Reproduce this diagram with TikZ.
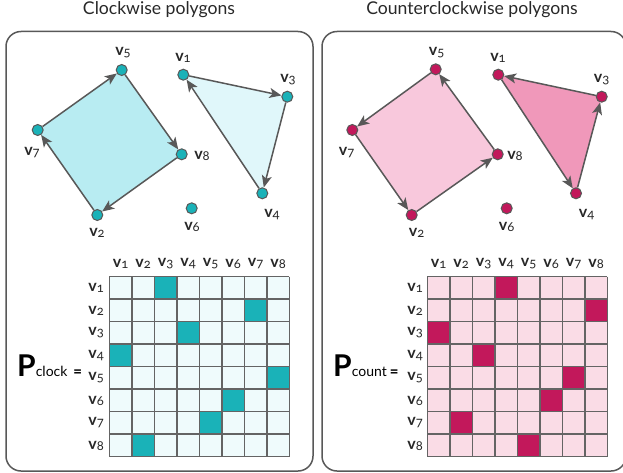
\documentclass[tikz,border=0pt]{standalone}
\usepackage{fontspec}
\setmainfont{Lato}[Numbers=OldStyle]
\usetikzlibrary{arrows.meta,backgrounds}
\definecolor{tealD}{RGB}{26,178,184}
\definecolor{tealQ}{RGB}{184,236,242}
\definecolor{tealT}{RGB}{224,247,250}
\definecolor{tealM}{RGB}{239,251,252}
\definecolor{pinkD}{RGB}{194,24,91}
\definecolor{pinkQ}{RGB}{248,200,220}
\definecolor{pinkT}{RGB}{240,152,186}
\definecolor{pinkM}{RGB}{250,220,230}
\definecolor{edgegray}{RGB}{88,88,88}
\definecolor{gridgray}{RGB}{100,100,100}
\definecolor{txt}{RGB}{40,40,40}
\tikzset{
  vtx/.style={circle, draw=edgegray, line width=1pt, minimum size=11pt, inner sep=0pt},
  arr/.style={draw=edgegray, line width=1.5pt, -{Stealth[length=12pt,width=10pt,inset=3pt]}},
  lab/.style={font=\fontsize{16}{16}\selectfont, text=txt, inner sep=0pt},
  ttl/.style={font=\fontsize{17.6}{18}\selectfont, text=txt, inner sep=0pt},
  panel/.style={draw=edgegray, line width=1.5pt, rounded corners=15pt},
  gridln/.style={draw=gridgray, line width=1.5pt},
  plab/.style={text=black, inner sep=0pt, anchor=west},
}
\newcommand\vl[1]{\textbf{v}{\fontsize{13}{13}\selectfont\raisebox{-1pt}{#1}}}
\begin{document}
\begin{tikzpicture}[x=1pt,y=-1pt]
\useasboundingbox (0,0) rectangle (623,473);
% titles
\node[ttl] (tl) at (159,10) {Clockwise polygons};
\node[ttl] (tr) at (472,10) {Counterclockwise polygons};
% panels
\draw[panel] (6,31.5) rectangle (313,471);
\draw[panel] (322,31.5) rectangle (626,471);

% ---- left vertices
\node[vtx,fill=tealD] (L5) at (121.7,70) {};
\node[vtx,fill=tealD] (L1) at (183.3,74.7) {};
\node[vtx,fill=tealD] (L3) at (287.3,96.7) {};
\node[vtx,fill=tealD] (L7) at (37.7,130) {};
\node[vtx,fill=tealD] (L8) at (181.7,154.3) {};
\node[vtx,fill=tealD] (L4) at (262.3,193.3) {};
\node[vtx,fill=tealD] (L6) at (191.7,208.3) {};
\node[vtx,fill=tealD] (L2) at (97.3,215) {};
\begin{pgfonlayer}{background}
\fill[tealQ] (L7.center) -- (L5.center) -- (L8.center) -- (L2.center) -- cycle;
\fill[tealT] (L1.center) -- (L3.center) -- (L4.center) -- cycle;
\end{pgfonlayer}
\draw[arr] (L7) -- (L5);
\draw[arr] (L5) -- (L8);
\draw[arr] (L8) -- (L2);
\draw[arr] (L2) -- (L7);
\draw[arr] (L1) -- (L3);
\draw[arr] (L3) -- (L4);
\draw[arr] (L4) -- (L1);
\node[lab] (lL5) at (123,53) {\vl{5}};
\node[lab] (lL1) at (183,58) {\vl{1}};
\node[lab] (lL3) at (288,80) {\vl{3}};
\node[lab] (lL7) at (32,153) {\vl{7}};
\node[lab] (lL8) at (202,156) {\vl{8}};
\node[lab] (lL4) at (272,215) {\vl{4}};
\node[lab] (lL6) at (192,227) {\vl{6}};
\node[lab] (lL2) at (97,233) {\vl{2}};

% ---- right vertices
\node[vtx,fill=pinkD] (R5) at (435.7,69.3) {};
\node[vtx,fill=pinkD] (R1) at (498.3,74.7) {};
\node[vtx,fill=pinkD] (R3) at (601.7,96.7) {};
\node[vtx,fill=pinkD] (R7) at (352.3,130) {};
\node[vtx,fill=pinkD] (R8) at (497.7,154.3) {};
\node[vtx,fill=pinkD] (R4) at (576,193.3) {};
\node[vtx,fill=pinkD] (R6) at (506.7,208.3) {};
\node[vtx,fill=pinkD] (R2) at (411.7,215) {};
\begin{pgfonlayer}{background}
\fill[pinkQ] (R7.center) -- (R5.center) -- (R8.center) -- (R2.center) -- cycle;
\fill[pinkT] (R1.center) -- (R3.center) -- (R4.center) -- cycle;
\end{pgfonlayer}
\draw[arr] (R5) -- (R7);
\draw[arr] (R7) -- (R2);
\draw[arr] (R2) -- (R8);
\draw[arr] (R8) -- (R5);
\draw[arr] (R1) -- (R4);
\draw[arr] (R4) -- (R3);
\draw[arr] (R3) -- (R1);
\node[lab] (lR5) at (436.7,53) {\vl{5}};
\node[lab] (lR1) at (498,58) {\vl{1}};
\node[lab] (lR3) at (601.7,80) {\vl{3}};
\node[lab] (lR7) at (346.7,153) {\vl{7}};
\node[lab] (lR8) at (515,156) {\vl{8}};
\node[lab] (lR4) at (586.7,215) {\vl{4}};
\node[lab] (lR6) at (506.7,227) {\vl{6}};
\node[lab] (lR2) at (416.7,233) {\vl{2}};

% ---- left matrix
\def\cs{22.5}
\fill[tealM] (109.3,276.7) rectangle (289.3,456.7);
\foreach \r/\c in {1/3,2/7,3/4,4/1,5/8,6/6,7/5,8/2}
  \fill[tealD] ({109.3+(\c-1)*\cs},{276.7+(\r-1)*\cs}) rectangle +(\cs,\cs);
\foreach \i in {0,...,8} {
  \draw[gridln] ({109.3+\i*\cs},276.7) -- ({109.3+\i*\cs},456.7);
  \draw[gridln] (109.3,{276.7+\i*\cs}) -- (289.3,{276.7+\i*\cs});
}
\foreach \i in {1,...,8} {
  \node[lab] (cL\i) at ({109.3+(\i-0.5)*\cs},264) {\vl{\i}};
  \node[lab,anchor=east] (rL\i) at (104,{276.7+(\i-0.5)*\cs}) {\vl{\i}};
}
\node[plab] (PL) at (17,366) {{\fontsize{30}{30}\selectfont\textbf{P}}{\fontsize{14}{14}\selectfont clock}\hspace{6pt}{\fontsize{16}{16}\selectfont\textbf{=}}};

% ---- right matrix
\fill[pinkM] (427.3,276.7) rectangle (607.3,456.7);
\foreach \r/\c in {1/4,2/8,3/1,4/3,5/7,6/6,7/2,8/5}
  \fill[pinkD] ({427.3+(\c-1)*\cs},{276.7+(\r-1)*\cs}) rectangle +(\cs,\cs);
\foreach \i in {0,...,8} {
  \draw[gridln] ({427.3+\i*\cs},276.7) -- ({427.3+\i*\cs},456.7);
  \draw[gridln] (427.3,{276.7+\i*\cs}) -- (607.3,{276.7+\i*\cs});
}
\foreach \i in {1,...,8} {
  \node[lab] (cR\i) at ({427.3+(\i-0.5)*\cs},264) {\vl{\i}};
  \node[lab,anchor=east] (rR\i) at (423,{276.7+(\i-0.5)*\cs}) {\vl{\i}};
}
\node[plab] (PR) at (333,366) {{\fontsize{30}{30}\selectfont\textbf{P}}{\fontsize{14}{14}\selectfont count}\hspace{3pt}{\fontsize{16}{16}\selectfont\textbf{=}}};
\end{tikzpicture}
\end{document}
